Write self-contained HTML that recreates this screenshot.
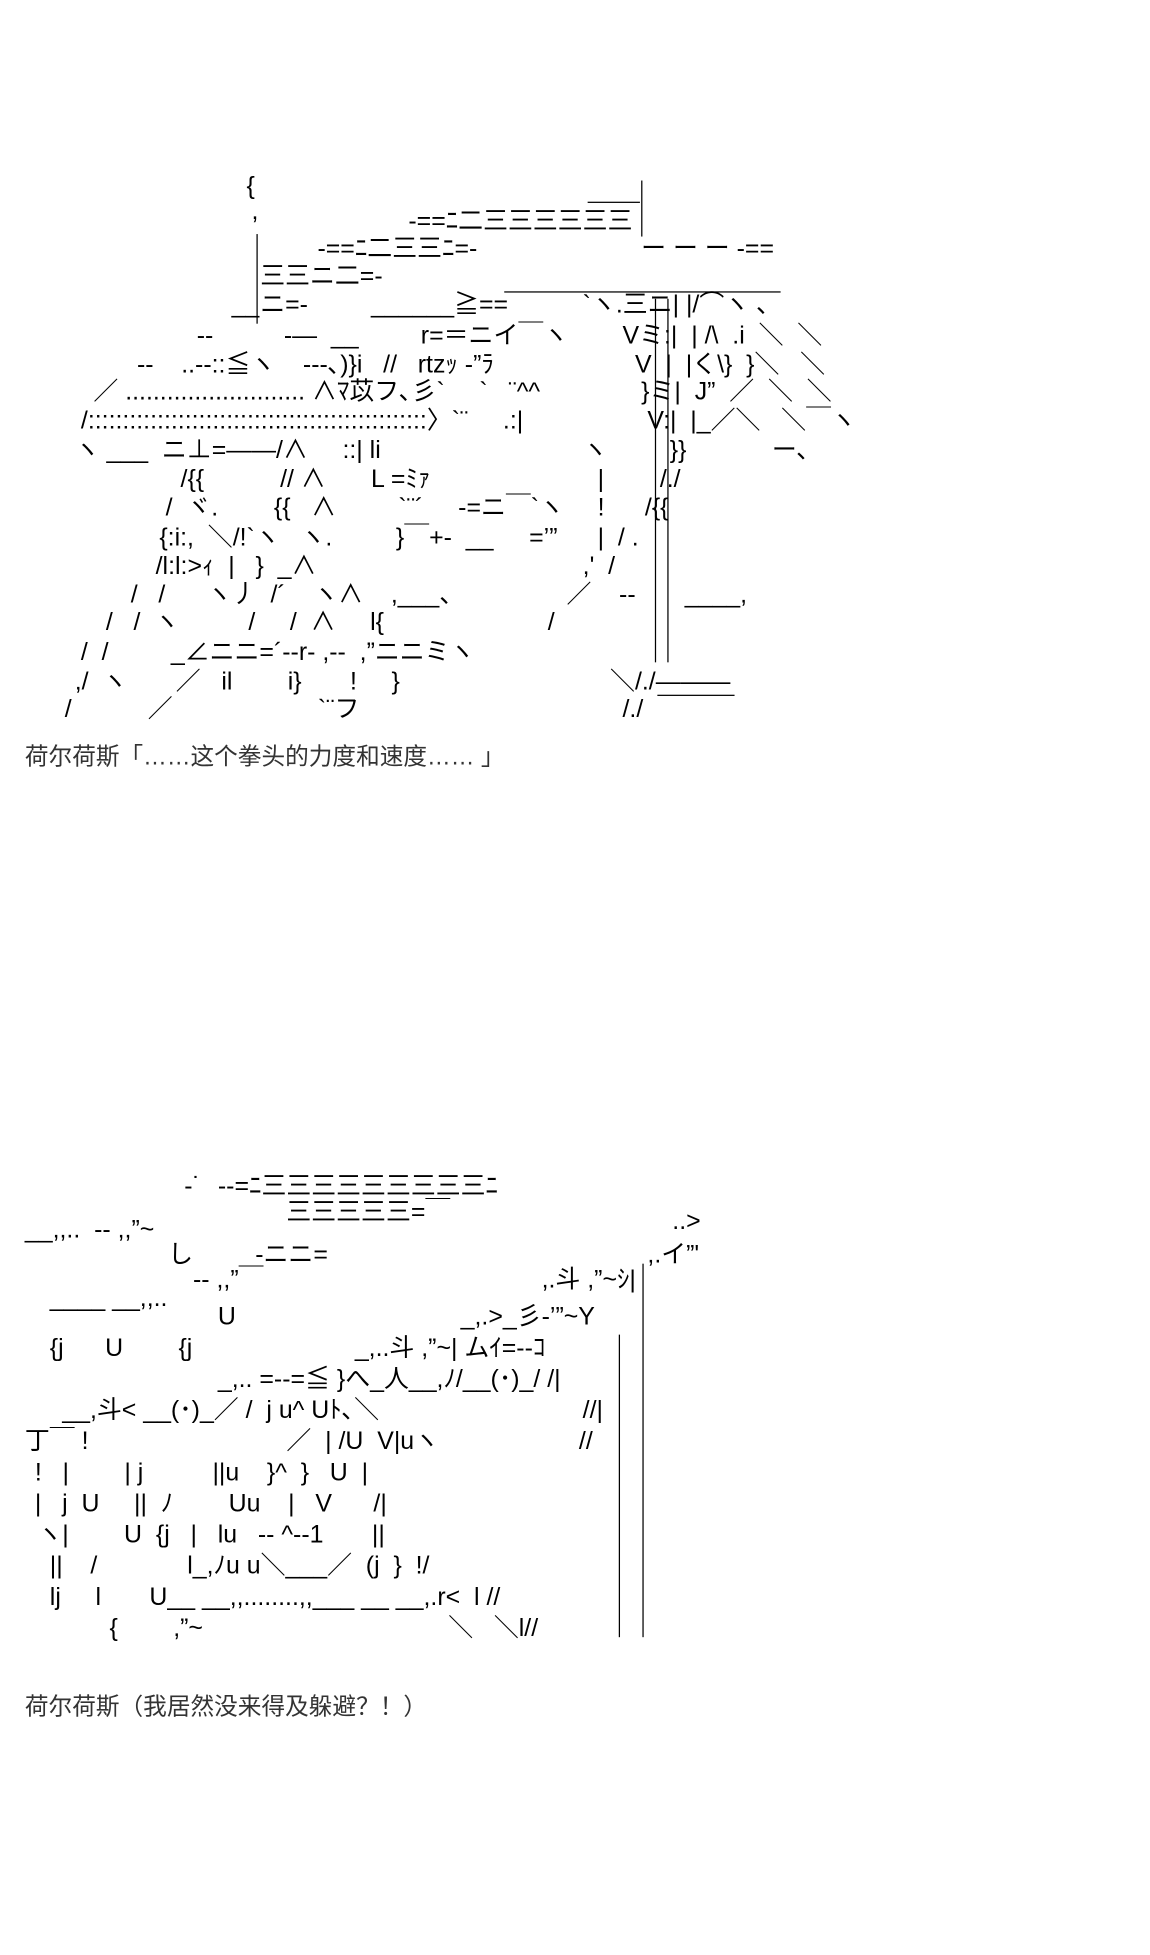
<!DOCTYPE html>
<html><head><meta charset="utf-8"><style>
html,body{margin:0;padding:0;background:#fff;width:1150px;height:1954px;overflow:hidden}
#c{position:absolute;left:0;top:0;width:924px;height:1570px;transform:scale(1.245);transform-origin:0 0}
#c span{position:absolute;white-space:pre;font-family:"Liberation Sans","Noto Sans CJK JP",sans-serif;font-size:20px;line-height:22px;color:#000}
#c .cap{font-size:19px;line-height:22px;color:#333;font-family:"Liberation Sans","Noto Sans CJK SC",sans-serif}
.v{position:absolute;width:1.2px;background:#000}
.h{position:absolute;height:1.2px;background:#000}
</style></head><body><div id="c">
<!-- top art -->
<span style="left:198px;top:139px">{</span>
<span style="left:202px;top:159px">,</span>
<div class="h" style="left:472px;top:162px;width:42px"></div>
<div class="v" style="left:515px;top:145px;height:45px"></div>
<span style="left:328px;top:167px">-==ﾆ二三三三三三三</span>
<div class="v" style="left:206px;top:188px;height:72px"></div>
<span style="left:255px;top:189px">-==ﾆ二三三ﾆ=-</span>
<span style="left:515px;top:189px">ー ー ー -==</span>
<span style="left:209px;top:211px">三三ニ二=-</span>
<div class="h" style="left:405px;top:234px;width:222px"></div>
<span style="left:186px;top:234px">__</span><span style="left:209px;top:234px">ニ=-</span>
<span style="left:298px;top:234px">______≧==</span>
<span style="left:468px;top:234px">`ヽ.三ニ| |/⌒ヽ 、</span>
<span style="left:158px;top:259px">--</span>
<span style="left:228px;top:259px">-―  __</span>
<span style="left:338px;top:259px">r=＝ニイ￣ヽ</span>
<span style="left:500px;top:259px">Vミ:|  | /\  .i  ＼  ＼</span>
<span style="left:110px;top:282px">--    ..--::≦ヽ    ---､)}i   //   rtzｯ -”ﾗ</span>
<span style="left:510px;top:282px">V  |  |く\}  }＼   ＼</span>
<span style="left:75px;top:304px">／ .......................... ∧ﾏ苡フ､彡`     `   ¨^^</span>
<span style="left:515px;top:304px">}ミ|  J”  ／  ＼  ＼</span>
<span style="left:65px;top:327px">/:::::::::::::::::::::::::::::::::::::::::::::::::〉`¨     .:|</span>
<span style="left:520px;top:327px">V:|  |_／＼   ＼￣ヽ</span>
<span style="left:60px;top:351px">ヽ ___  ニ⊥=――/∧     ::| li</span>
<span style="left:468px;top:351px">ヽ</span><span style="left:538px;top:351px">}}</span><span style="left:620px;top:351px">ー､</span>
<span style="left:145px;top:374px">/{{</span><span style="left:225px;top:374px">// ∧</span><span style="left:298px;top:374px">L =ﾐｧ</span>
<span style="left:480px;top:374px">|</span><span style="left:530px;top:374px">/./</span>
<span style="left:133px;top:397px">/  ヾ.</span><span style="left:220px;top:397px">{{   ∧</span><span style="left:320px;top:397px">`¨´</span>
<span style="left:368px;top:397px">-=ニ￣`ヽ</span><span style="left:480px;top:397px">!</span><span style="left:518px;top:397px">/{{</span>
<span style="left:128px;top:421px">{:i:,  ＼/!`ヽ   ヽ.</span><span style="left:318px;top:421px">}￣+-  __</span>
<span style="left:425px;top:421px">=’”</span><span style="left:480px;top:421px">|  / .</span>
<span style="left:125px;top:444px">/l:l:&gt;ｨ  |   }  _∧</span><span style="left:468px;top:444px">,'  /</span>
<span style="left:105px;top:467px">/   /      ヽ丿  /´    ヽ∧    ,___、</span>
<span style="left:455px;top:467px">／    --</span><span style="left:550px;top:467px">____,</span>
<span style="left:85px;top:489px">/   /  ヽ          /     /  ∧     l{</span>
<span style="left:440px;top:489px">/</span>
<span style="left:65px;top:513px">/  /         _∠ニニ=´--r- ,--  ,”ニニミヽ</span>
<span style="left:60px;top:537px">,/  ヽ       ／   il        i}       !     }</span>
<span style="left:490px;top:537px">＼/./―――</span>
<div class="h" style="left:528px;top:558px;width:62px"></div>
<span style="left:52px;top:559px">/           ／                     `¨フ</span>
<span style="left:500px;top:559px">/./</span>
<div class="v" style="left:526px;top:240px;height:292px"></div>
<div class="v" style="left:536px;top:240px;height:292px"></div>
<span class="cap" style="left:20px;top:598px">荷尔荷斯「……这个拳头的力度和速度…… 」</span>
<!-- bottom art -->
<span style="left:148px;top:942px">-˙</span>
<span style="left:175px;top:942px">--=ﾆ三三三三三三三三三ﾆ</span>
<span style="left:230px;top:963px">三三三三三=￣</span>
<span style="left:20px;top:977px">__,,..  -- ,,”~</span>
<span style="left:540px;top:970px">..&gt;</span>
<span style="left:135px;top:997px">し</span><span style="left:205px;top:997px">-ニニ=</span>
<span style="left:520px;top:997px">,.イ”'</span>
<span style="left:155px;top:1017px">-- ,,”￣</span>
<span style="left:435px;top:1017px">,.斗 ,”~ｼ|</span>
<span style="left:40px;top:1032px">____ __,,..</span>
<span style="left:175px;top:1047px">U</span>
<span style="left:370px;top:1047px">_,.&gt;_彡-’”~Y</span>
<span style="left:40px;top:1072px">{j      U        {j</span>
<span style="left:285px;top:1072px">_,..斗 ,”~| ムｲ=--ｺ</span>
<span style="left:175px;top:1097px">_,.. =--=≦ }へ_人__,ﾉ/__(･)_/ /|</span>
<span style="left:50px;top:1122px">__,斗&lt; __(･)_／ /  j u^ Uﾄ､＼</span>
<span style="left:468px;top:1122px">//|</span>
<span style="left:20px;top:1147px">丁￣ !</span><span style="left:230px;top:1147px">／  | /U  V|uヽ</span><span style="left:465px;top:1147px">//</span>
<span style="left:28px;top:1172px">!   |        | j          ||u    }^  }   U  |</span>
<span style="left:28px;top:1197px">|   j  U     ||  ﾉ        Uu    |   V      /|</span>
<span style="left:30px;top:1222px">ヽ|        U  {j   |   lu   -- ^--1       ||</span>
<span style="left:40px;top:1247px">||    /             l_,ﾉu u＼___／  (j  }  !/</span>
<span style="left:40px;top:1272px">lj     l       U__ __,,........,,___ __ __,.r&lt;  l //</span>
<span style="left:88px;top:1297px">{        ,”~</span><span style="left:360px;top:1297px">＼   ＼l//</span>
<div class="v" style="left:497px;top:1072px;height:243px"></div>
<div class="v" style="left:516px;top:1015px;height:300px"></div>
<span class="cap" style="left:20px;top:1361px">荷尔荷斯（我居然没来得及躲避？！）</span>
</div></body></html>
